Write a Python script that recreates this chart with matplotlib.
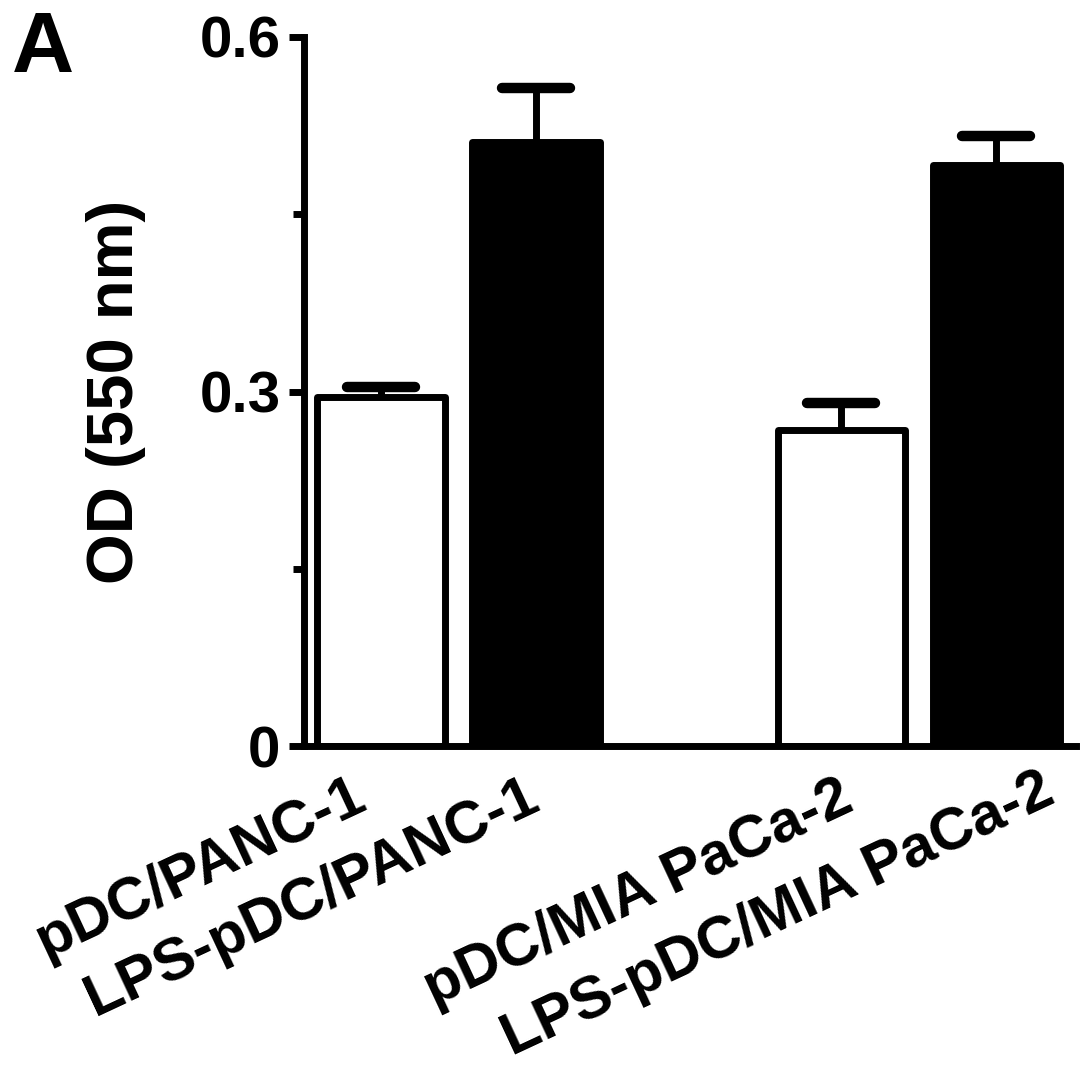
import matplotlib
matplotlib.use("Agg")
import matplotlib.pyplot as plt
import matplotlib.transforms as mtransforms

# ---- data ----
categories = ["pDC/PANC-1", "LPS-pDC/PANC-1", "pDC/MIA PaCa-2", "LPS-pDC/MIA PaCa-2"]
od_values = [0.295, 0.511, 0.267, 0.492]
od_errors = [0.009, 0.046, 0.023, 0.024]
bar_colors = ["white", "black", "white", "black"]
yticks_major = [0, 0.3, 0.6]
ytick_labels = ["0", "0.3", "0.6"]
yticks_minor = [0.15, 0.45]

plt.rcParams['font.family'] = ['Liberation Sans', 'DejaVu Sans']
plt.rcParams['font.weight'] = 'bold'

W, H, DPI = 1087, 1065, 100
fig = plt.figure(figsize=(W / DPI, H / DPI), dpi=DPI)
ax = fig.add_axes([304 / W, 1 - 746 / H, (1076 - 304) / W, (746 - 37) / H])

positions = [0, 1, 2.97, 3.97]
bars = ax.bar(positions, od_values, width=0.82, color=bar_colors,
              edgecolor="black", linewidth=5, zorder=2)
for b in bars:
    b.set_joinstyle('round')

# error bars (upper only)
tops = [v + e for v, e in zip(od_values, od_errors)]
stems = ax.vlines(positions, od_values, tops, colors="black", linewidth=5, zorder=3)
caps = ax.hlines(tops, [p - 0.22 for p in positions], [p + 0.22 for p in positions],
                 colors="black", linewidth=7.5, zorder=3)
caps.set_capstyle('round')

ax.set_xlim(-0.497, 4.484)
ax.set_ylim(0, 0.6)

for s in ["top", "right"]:
    ax.spines[s].set_visible(False)
for s in ["left", "bottom"]:
    ax.spines[s].set_linewidth(5)
    ax.spines[s].set_capstyle('projecting')

ax.set_yticks(yticks_major)
ax.set_yticklabels(ytick_labels, fontsize=42, fontweight='bold')
ax.set_yticks(yticks_minor, minor=True)
ax.tick_params(axis='y', which='major', length=11, width=5, direction='out', pad=6)
ax.tick_params(axis='y', which='minor', length=8, width=5, direction='out')

ax.set_xticks(positions)
ax.set_xticklabels(categories, fontsize=43, fontweight='bold', rotation=25,
                   ha='right', va='top', rotation_mode='anchor')
ax.tick_params(axis='x', length=0, pad=12)
label_dx = [-30, -12, -3, 43]
label_dy = [-6, -6, -8, 0]
for lab, dx, dy in zip(ax.get_xticklabels(), label_dx, label_dy):
    lab.set_transform(lab.get_transform() +
                      mtransforms.ScaledTranslation(dx / DPI, dy / DPI, fig.dpi_scale_trans))

ax.set_ylabel("OD (550 nm)", fontsize=47, fontweight='bold')
ax.yaxis.set_label_coords(-0.205, 0.5)

fig.text(12 / W, 1 - 72 / H, "A", fontsize=62, fontweight='bold', ha='left', va='baseline')

fig.savefig("out.png", dpi=DPI)
